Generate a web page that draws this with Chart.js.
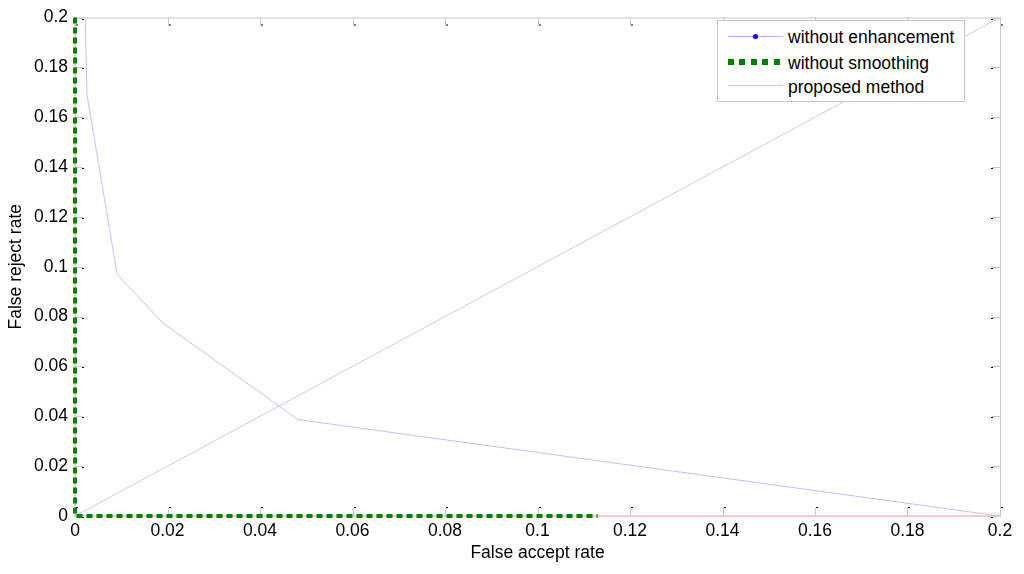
<!DOCTYPE html>
<html>
<head>
<meta charset="utf-8">
<script src="https://cdn.jsdelivr.net/npm/chart.js@4"></script>
<style>
html,body{margin:0;padding:0;background:#fff;}
#wrap{position:relative;width:1024px;height:574px;}
#legend{position:absolute;left:717px;top:20px;width:248px;height:82px;border:1px solid #c8c8c8;background:#fff;font-family:"Liberation Sans",Arial,sans-serif;font-size:17.5px;line-height:20px;color:#000;box-sizing:border-box;}
.sample{position:absolute;left:10px;width:55px;}
.label{position:absolute;left:70px;white-space:nowrap;}
</style>
</head>
<body>
<div id="wrap">
<canvas id="c" width="1024" height="574"></canvas>
<div id="legend">
  <div class="sample" style="top:15px;border-top:1px solid #b8b8ff"></div>
  <div style="position:absolute;left:35px;top:13px;width:5px;height:5px;border-radius:50%;background:#0000ff"></div>
  <div class="label" style="top:6px">without enhancement</div>
  <div class="sample" style="top:38px;height:6px;background:repeating-linear-gradient(90deg,#008000 0 6px,transparent 6px 11.5px)"></div>
  <div class="label" style="top:32px">without smoothing</div>
  <div class="sample" style="top:64px;border-top:1px solid #ffc0c0"></div>
  <div class="label" style="top:56px">proposed method</div>
</div>
</div>
<script>
// Data
const enhX = [0.0022, 0.0026, 0.0091, 0.0190, 0.0482, 0.2];
const enhY = [0.2, 0.169, 0.097, 0.0774, 0.0387, 0.0];
const smoothX = [0, 0, 0.113];
const smoothY = [0.2, 0, 0];
const propX = [0, 0, 0.2];
const propY = [0.2, 0, 0];
const eerX = [0, 0.2];
const eerY = [0, 0.2];
const tickValues = [0,0.02,0.04,0.06,0.08,0.1,0.12,0.14,0.16,0.18,0.2];
const seriesNames = ["without enhancement","without smoothing","proposed method"];

const zip = (xs, ys) => xs.map((x,i) => ({x:x, y:ys[i]}));
const fmt = v => String(parseFloat(Number(v).toFixed(2)));
const FONT = '"Liberation Sans", Arial, sans-serif';

const frame = {
  id:'frame',
  beforeDatasetsDraw(chart){
    const {ctx, chartArea:a, scales:{x, y}} = chart;
    ctx.save();
    ctx.strokeStyle = '#c8c8c8';
    ctx.lineWidth = 1;
    ctx.strokeRect(a.left+0.5, a.top+0.5, a.right-a.left, a.bottom-a.top);
    tickValues.forEach(v => {
      const px = Math.round(x.getPixelForValue(v));
      const py = Math.round(y.getPixelForValue(v));
      ctx.strokeStyle = '#c8c8c8';
      ctx.beginPath();
      ctx.moveTo(px+0.5, a.bottom); ctx.lineTo(px+0.5, a.bottom-8);
      ctx.moveTo(px+0.5, a.top); ctx.lineTo(px+0.5, a.top+8);
      ctx.moveTo(a.left, py+0.5); ctx.lineTo(a.left+8, py+0.5);
      ctx.moveTo(a.right, py+0.5); ctx.lineTo(a.right-8, py+0.5);
      ctx.stroke();
      ctx.fillStyle = '#000';
      ctx.fillRect(px+1, a.bottom-9, 2, 1);
      ctx.fillRect(px+1, a.top+7, 2, 1);
      ctx.fillRect(a.left+7, py+1, 2, 1);
      ctx.fillRect(a.right-9, py+1, 2, 1);
    });
    ctx.restore();
  }
};

new Chart(document.getElementById('c'), {
  type:'line',
  data:{
    datasets:[
      {label:seriesNames[1], data:zip(smoothX, smoothY), borderColor:'#008000', borderWidth:4, borderDash:[6,4], pointRadius:0, clip:false, order:0},
      {label:seriesNames[0], data:zip(enhX, enhY), borderColor:'#c0c0ff', borderWidth:1, pointRadius:0, order:1},
      {label:'', data:zip(eerX, eerY), borderColor:'#c8c8ff', borderWidth:1, pointRadius:0, order:2},
      {label:seriesNames[2], data:zip(propX, propY), borderColor:'#ffc4c4', borderWidth:1.5, pointRadius:0, clip:false, order:3}
    ]
  },
  options:{
    responsive:false,
    animation:false,
    layout:{padding:{top:15, right:24, left:0, bottom:0}},
    plugins:{legend:{display:false}, tooltip:{enabled:false}},
    scales:{
      x:{
        type:'linear', min:0, max:0.2,
        afterBuildTicks(s){ s.ticks = tickValues.map(v => ({value:v})); },
        afterFit(s){ s.height = 58; },
        grid:{display:false, drawTicks:false},
        border:{display:false},
        ticks:{color:'#000', padding:5, maxRotation:0, autoSkip:false, font:{family:FONT, size:17.5}, callback:v => fmt(v)},
        title:{display:true, text:'False accept rate', color:'#000', padding:{top:0,bottom:10}, font:{family:FONT, size:17.5}}
      },
      y:{
        type:'linear', min:0, max:0.2,
        afterBuildTicks(s){ s.ticks = tickValues.map(v => ({value:v})); },
        afterFit(s){ s.width = 75; },
        grid:{display:false, drawTicks:false},
        border:{display:false},
        ticks:{color:'#000', padding:7, autoSkip:false, font:{family:FONT, size:17.5}, callback:v => fmt(v)},
        title:{display:true, text:'False reject rate', color:'#000', padding:{top:6,bottom:0}, font:{family:FONT, size:17.5}}
      }
    }
  },
  plugins:[frame]
});
</script>
</body>
</html>
